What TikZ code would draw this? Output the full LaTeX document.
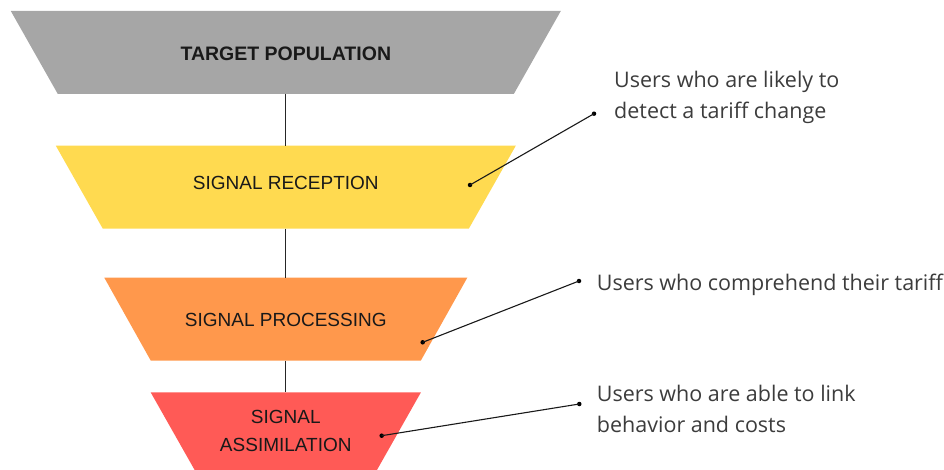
\documentclass[tikz,border=0pt]{standalone}
\usepackage{fontspec}
\setmainfont{Liberation Sans}
\newfontfamily\notefont{Open Sans}
\definecolor{popgray}{RGB}{166,166,166}
\definecolor{recyellow}{RGB}{255,218,80}
\definecolor{procorange}{RGB}{255,152,76}
\definecolor{assimred}{RGB}{255,90,86}
\definecolor{notegray}{RGB}{60,60,60}
\begin{document}
\begin{tikzpicture}[x=1pt,y=-1pt,
  stage/.style={inner sep=0pt, outer sep=0pt, minimum height=83pt},
  stagelabel/.style={font=\fontsize{19}{27.7}\selectfont, text=black!90, align=center, inner sep=0pt},
  note/.style={font=\notefont\fontsize{21.5}{31}\selectfont, text=notegray, align=left, inner sep=0pt, anchor=base west},
  link/.style={line width=1.3pt, black!85},
  leader/.style={line width=1.1pt, black!90},
  dot/.style={circle, fill=black, inner sep=0pt, minimum size=4.5pt}]
\useasboundingbox (0,0) rectangle (944,470);

% stage bodies (top width; each narrows by 47 on both sides over its height)
\node[stage, minimum width=550pt]   (pop)  at (285.8,52.5)  {};
\node[stage, minimum width=460pt]   (rec)  at (285.8,187.2) {};
\node[stage, minimum width=363pt]   (proc) at (285.8,319.2) {};
\node[stage, minimum width=270.3pt] (asm)  at (285.8,433.8) {};

\foreach \s/\c/\o in {pop/popgray/47, rec/recyellow/47, proc/procorange/46.5, asm/assimred/47}{
  \fill[\c] (\s.north west) -- (\s.north east) -- ([xshift=-\o pt]\s.south east)
            -- ([xshift=\o pt]\s.south west) -- cycle;
}

% vertical links between the stages
\draw[link] (pop.south)  -- (rec.north);
\draw[link] (rec.south)  -- (proc.north);
\draw[link] (proc.south) -- (asm.north);

% stage labels
\node[stagelabel, font=\bfseries\fontsize{19.5}{24}\selectfont] (popl) at (285.8,53.7) {TARGET POPULATION};
\node[stagelabel] (recl)  at (285.8,182.9) {SIGNAL RECEPTION};
\node[stagelabel] (procl) at (285.8,320)   {SIGNAL PROCESSING};
\node[stagelabel] (asml)  at (285.8,430.9) {SIGNAL\\ASSIMILATION};

% descriptions (base anchor sits on the last line)
\node[note] (recn)  at (614,118.3)   {Users who are likely to\\detect a tariff change};
\node[note] (procn) at (596.7,290.7) {Users who comprehend their tariff};
\node[note] (asmn)  at (596.7,432.7) {Users who are able to link\\behavior and costs};

% leader lines with end dots
\node[dot] (r1) at (470,185)     {};
\node[dot] (r2) at (594,113.7)   {};
\node[dot] (p1) at (422.7,342.3) {};
\node[dot] (p2) at (579,281)     {};
\node[dot] (a1) at (381.7,435.7) {};
\node[dot] (a2) at (579.3,404)   {};
\draw[leader] (r1.center) -- (r2.center);
\draw[leader] (p1.center) -- (p2.center);
\draw[leader] (a1.center) -- (a2.center);
\end{tikzpicture}
\end{document}
